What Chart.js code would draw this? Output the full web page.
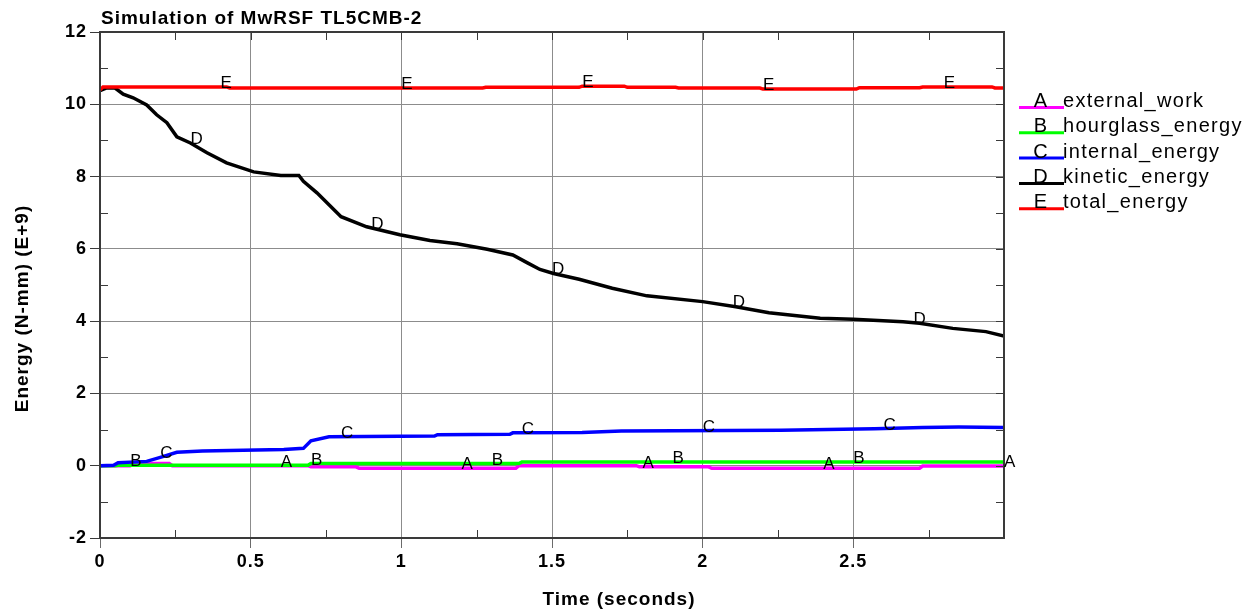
<!DOCTYPE html>
<html>
<head>
<meta charset="utf-8">
<script src="https://cdn.jsdelivr.net/npm/chart.js@4.4.1/dist/chart.umd.min.js"></script>
<style>
  html, body { margin: 0; padding: 0; background: #fff; }
  canvas { display: block; }
</style>
</head>
<body>
<canvas id="energy" width="1259" height="615"></canvas>
<script>
// curve energies, in E+9 N-mm, against time in seconds
const externalT = [0, 0.10, 0.11, 0.23, 0.24, 0.69, 0.70, 0.85, 0.86, 1.38, 1.39, 1.78, 1.79, 2.02, 2.03, 2.72, 2.73, 3.0];
const externalV = [0, 0, 0.06, 0.06, 0, 0, -0.03, -0.03, -0.07, -0.07, 0, 0, -0.03, -0.03, -0.07, -0.07, -0.01, -0.01];

const hourglassT = [0, 0.05, 0.06, 0.69, 0.70, 1.39, 1.40, 3.0];
const hourglassV = [0, 0, 0.01, 0.01, 0.06, 0.06, 0.10, 0.10];

const internalT = [0, 0.045, 0.06, 0.155, 0.20, 0.255, 0.34, 0.61, 0.675, 0.70, 0.76, 1.11, 1.12, 1.36, 1.37, 1.60, 1.73, 2.26, 2.57, 2.73, 2.85, 3.0];
const internalV = [0, 0.01, 0.08, 0.12, 0.23, 0.37, 0.41, 0.45, 0.48, 0.69, 0.80, 0.82, 0.86, 0.87, 0.91, 0.92, 0.96, 0.98, 1.02, 1.06, 1.07, 1.06];

const kineticT = [0, 0.02, 0.05, 0.077, 0.11, 0.155, 0.188, 0.222, 0.255, 0.30, 0.355, 0.42, 0.51, 0.60, 0.66, 0.675, 0.72, 0.80, 0.885, 0.995,
  1.095, 1.185, 1.285, 1.37, 1.417, 1.46, 1.505, 1.59, 1.70, 1.815, 2.0, 2.11, 2.22, 2.39, 2.50, 2.665, 2.72, 2.83, 2.94, 3.0];
const kineticV = [10.38, 10.45, 10.45, 10.28, 10.18, 9.98, 9.71, 9.49, 9.10, 8.93, 8.66, 8.38, 8.13, 8.03, 8.03, 7.87, 7.55, 6.89, 6.61, 6.39,
  6.23, 6.14, 5.99, 5.83, 5.62, 5.43, 5.32, 5.16, 4.91, 4.70, 4.54, 4.40, 4.23, 4.08, 4.05, 3.98, 3.94, 3.80, 3.71, 3.59];

const totalT = [0, 0.01, 0.42, 0.43, 1.27, 1.28, 1.59, 1.60, 1.74, 1.75, 1.91, 1.92, 2.19, 2.20, 2.51, 2.52, 2.72, 2.73, 2.96, 2.97, 3.0];
const totalV = [10.40, 10.48, 10.48, 10.45, 10.45, 10.47, 10.47, 10.50, 10.50, 10.47, 10.47, 10.45, 10.45, 10.42, 10.42, 10.46, 10.46, 10.48, 10.48, 10.45, 10.45];

const seriesNames = ["external_work", "hourglass_energy", "internal_energy", "kinetic_energy", "total_energy"];
const seriesTags = ["A", "B", "C", "D", "E"];
const seriesColors = ["#ff00ff", "#00ff00", "#0000ff", "#000000", "#ff0000"];

// where each curve gets its letter tag
const tagTimes = [
  [0.6, 1.2, 1.8, 2.4, 3.0],
  [0.1, 0.7, 1.3, 1.9, 2.5],
  [0.2, 0.8, 1.4, 2.0, 2.6],
  [0.3, 0.9, 1.5, 2.1, 2.7],
  [0.4, 1.0, 1.6, 2.2, 2.8]
];

const yTicks = [-2, 0, 2, 4, 6, 8, 10, 12];

const pairs = (ts, vs) => ts.map((t, i) => ({ x: t, y: vs[i] }));
const curves = [
  pairs(externalT, externalV),
  pairs(hourglassT, hourglassV),
  pairs(internalT, internalV),
  pairs(kineticT, kineticV),
  pairs(totalT, totalV)
];

function valueAt(points, t) {
  for (let i = 1; i < points.length; i++) {
    if (t <= points[i].x) {
      const a = points[i - 1], b = points[i];
      const f = b.x === a.x ? 1 : (t - a.x) / (b.x - a.x);
      return a.y + f * (b.y - a.y);
    }
  }
  return points[points.length - 1].y;
}

const DARK = "#3a3a3a";
const FONT = "'Liberation Sans', Arial, sans-serif";

// frame, inner ticks, titles, curve letters and the legend
const decorations = {
  id: "decorations",
  beforeDraw(chart) {
    chart.ctx.letterSpacing = "1px";
  },
  afterDatasetsDraw(chart) {
    const { ctx, chartArea: a, scales } = chart;
    const xs = scales.x, ys = scales.y;
    ctx.save();

    // minor and mirrored ticks
    ctx.strokeStyle = DARK;
    ctx.lineWidth = 1;
    ctx.beginPath();
    for (let v = -2; v <= 12; v += 1) {
      const y = Math.round(ys.getPixelForValue(v)) + 0.5;
      if (v % 2 !== 0) {
        ctx.moveTo(a.left, y); ctx.lineTo(a.left + 8, y);
      }
      ctx.moveTo(a.right, y); ctx.lineTo(a.right - 8, y);
    }
    for (let k = 0; k <= 12; k++) {
      const x = Math.round(xs.getPixelForValue(k * 0.25)) + 0.5;
      if (k % 2 === 1) {
        ctx.moveTo(x, a.bottom); ctx.lineTo(x, a.bottom - 8);
      }
      ctx.moveTo(x, a.top); ctx.lineTo(x, a.top + 8);
    }
    ctx.stroke();

    // frame
    ctx.lineWidth = 2;
    ctx.strokeRect(a.left, a.top, a.right - a.left, a.bottom - a.top);

    // letters along the curves
    ctx.fillStyle = "#000";
    ctx.font = "17px " + FONT;
    ctx.letterSpacing = "0px";
    ctx.textAlign = "left";
    ctx.textBaseline = "alphabetic";
    curves.forEach((pts, i) => {
      tagTimes[i].forEach(t => {
        const px = xs.getPixelForValue(t);
        const py = ys.getPixelForValue(valueAt(pts, t));
        ctx.fillText(seriesTags[i], px, py + 1);
      });
    });

    // title
    ctx.letterSpacing = "1px";
    ctx.font = "bold 19px " + FONT;
    ctx.fillText("Simulation of MwRSF TL5CMB-2", 101, 23.5);

    // axis titles
    ctx.textAlign = "center";
    ctx.fillText("Time (seconds)", 619, 605);
    ctx.save();
    ctx.translate(27.5, 308.5);
    ctx.rotate(-Math.PI / 2);
    ctx.fillText("Energy (N-mm) (E+9)", 0, 0);
    ctx.restore();

    // legend: tag letter over a coloured underline, then the name
    ctx.font = "20px " + FONT;
    ctx.letterSpacing = "1.3px";
    seriesNames.forEach((name, i) => {
      const base = 107 + 25.3 * i;
      ctx.strokeStyle = seriesColors[i];
      ctx.lineWidth = 3;
      ctx.beginPath();
      ctx.moveTo(1019, base + 0.5);
      ctx.lineTo(1064, base + 0.5);
      ctx.stroke();
      ctx.fillStyle = "#000";
      ctx.textAlign = "center";
      ctx.fillText(seriesTags[i], 1041, base);
      ctx.textAlign = "left";
      ctx.fillText(name, 1063, base);
    });

    ctx.restore();
  }
};

new Chart(document.getElementById("energy"), {
  type: "line",
  data: {
    datasets: curves.map((pts, i) => ({
      label: seriesNames[i],
      data: pts,
      borderColor: seriesColors[i],
      borderWidth: 3.5,
      pointRadius: 0,
      tension: 0,
      fill: false,
      order: 5 - i
    }))
  },
  options: {
    responsive: false,
    animation: false,
    events: [],
    layout: { padding: { top: 32, right: 255, left: 0, bottom: 0 } },
    plugins: {
      legend: { display: false },
      title: { display: false },
      tooltip: { enabled: false }
    },
    scales: {
      x: {
        type: "linear",
        min: 0,
        max: 3,
        afterFit: s => { s.height = 77; },
        grid: {
          color: "#8c8c8c",
          lineWidth: 1,
          tickLength: 10,
          tickColor: c => (c.tick && c.tick.value === 3 ? "rgba(0,0,0,0)" : "#6a6a6a")
        },
        border: { display: false },
        ticks: {
          stepSize: 0.5,
          padding: 3,
          color: "#000",
          font: { family: FONT, size: 18, weight: "bold" },
          callback: v => (v === 3 ? "" : String(v))
        }
      },
      y: {
        min: -2,
        max: 12,
        afterFit: s => { s.width = 100; },
        afterBuildTicks: s => { s.ticks = yTicks.map(v => ({ value: v })); },
        grid: { color: "#8c8c8c", lineWidth: 1, tickLength: 10, tickColor: DARK },
        border: { display: false },
        ticks: {
          padding: 3,
          color: "#000",
          font: { family: FONT, size: 18, weight: "bold" }
        }
      }
    }
  },
  plugins: [decorations]
});
</script>
</body>
</html>
